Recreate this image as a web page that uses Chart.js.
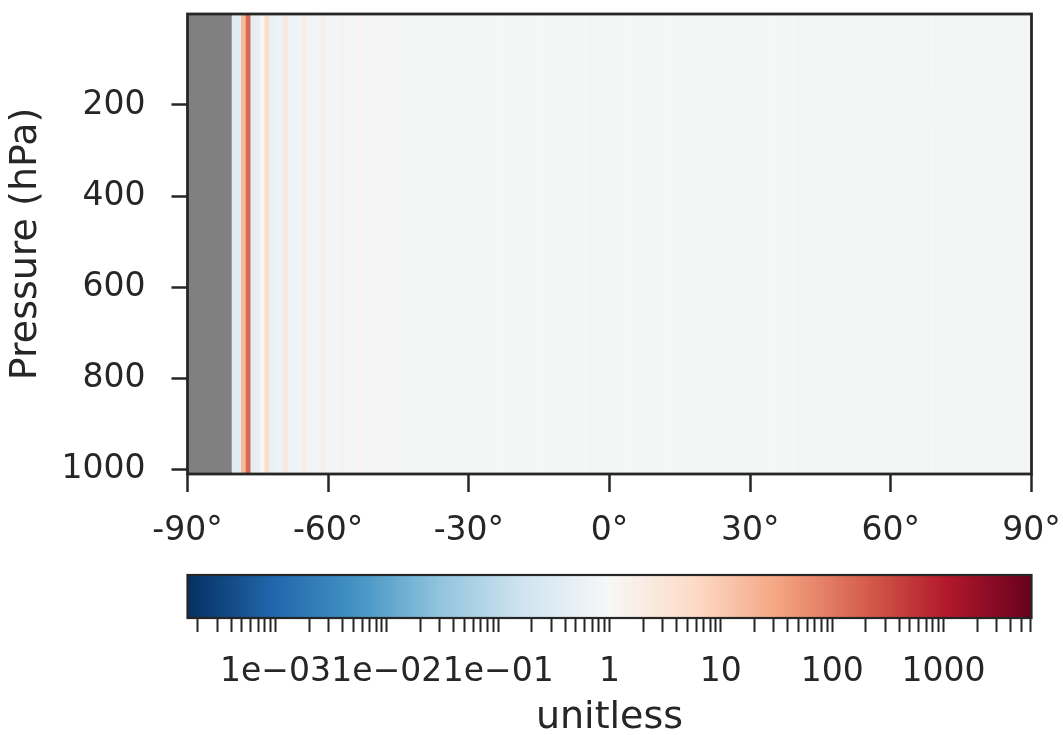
<!DOCTYPE html>
<html>
<head>
<meta charset="utf-8">
<script src="https://cdn.jsdelivr.net/npm/chart.js@4.4.1/dist/chart.umd.min.js"></script>
<style>
  html, body { margin: 0; padding: 0; background: #fff; }
  #wrap { position: relative; width: 1063px; height: 735px; overflow: hidden; }
  #heat { position: absolute; left: 0; top: 0; }
  #cbar { position: absolute; left: 0; top: 560px; }
</style>
</head>
<body>
<div id="wrap">
  <canvas id="heat" width="1063" height="560"></canvas>
  <canvas id="cbar" width="1063" height="175"></canvas>
</div>
<script>
// --- DATA ---
// latitude grid (1 degree cells, -90..90)
const latitudes = Array.from({ length: 181 }, (_, i) => i - 90);

// ratio per latitude column (null = no data, drawn grey)
const columnRatio = [
  null, null, null, null, null, null, null, null, null, null,      // -90..-81
  0.33, 0.36, 18, 150, 0.42, 0.45, 0.95, 5, 0.55, 0.58,          // -80..-71
  0.62, 2.6, 0.68, 0.7, 0.72, 1.8, 0.74, 0.76, 0.78, 1.5,         // -70..-61
  0.8, 0.8, 0.82, 1.35, 0.82, 0.84, 0.84, 1.2, 0.85, 0.85,        // -60..-51
  0.86, 1.1, 0.86, 0.87, 0.86, 1.05, 0.87, 0.88, 0.87, 0.9,       // -50..-41
  0.88, 0.87, 0.88, 0.9, 0.88, 0.87, 0.89, 0.88, 0.9, 0.88,       // -40..-31
  0.87, 0.88, 0.89, 0.88, 0.87, 0.88, 0.9, 0.89, 0.88, 0.87,      // -30..-21
  0.88, 0.89, 0.88, 0.87, 0.88, 0.89, 0.9, 0.88, 0.87, 0.88,      // -20..-11
  0.89, 0.88, 0.87, 0.88, 0.9, 0.89, 0.88, 0.87, 0.88, 0.89,      // -10..-1
  0.88, 0.87, 0.88, 0.89, 0.9, 0.88, 0.87, 0.88, 0.89, 0.88,      // 0..9
  0.87, 0.88, 0.9, 0.89, 0.88, 0.87, 0.88, 0.89, 0.88, 0.87,      // 10..19
  0.88, 0.89, 0.88, 0.9, 0.88, 0.87, 0.89, 0.88, 0.87, 0.88,      // 20..29
  0.89, 0.88, 0.87, 0.88, 0.89, 0.9, 0.88, 0.87, 0.88, 0.89,      // 30..39
  0.88, 0.87, 0.89, 0.88, 0.9, 0.88, 0.87, 0.88, 0.89, 0.88,      // 40..49
  0.87, 0.88, 0.89, 0.9, 0.88, 0.87, 0.88, 0.89, 0.88, 0.9,       // 50..59
  0.89, 0.88, 0.87, 0.88, 0.9, 0.89, 0.88, 0.87, 0.88, 0.89,      // 60..69
  0.88, 0.87, 0.88, 0.89, 0.9, 0.88, 0.87, 0.88, 0.89, 0.88,      // 70..79
  0.87, 0.88, 0.89, 0.88, 0.9, 0.88, 0.87, 0.88, 0.89, 0.88,      // 80..89
  0.9                                                              // 90
];

// faint positive patch near 200 hPa at high northern latitudes
const patchLatitudes = [59, 60, 61, 62, 63, 64, 65, 66, 67, 68, 69, 70, 71, 72, 73, 74, 75, 76, 77, 78, 79, 80, 81, 82, 83, 84, 85, 86, 87, 88, 89, 90];
const patchRatio = 1.2;
const patchPressure = [160, 250];

const columnPressure = [0.5, 1009];   // top / bottom of the data (hPa)

const latTicks = [-90, -60, -30, 0, 30, 60, 90];
const latTickLabels = ['-90°', '-60°', '-30°', '0°', '30°', '60°', '90°'];
const pressureTicks = [200, 400, 600, 800, 1000];

const cbLimits = [1 / 6170, 6170];
const cbMajor = [1e-3, 1e-2, 1e-1, 1, 10, 100, 1000];
const cbMajorLabels = ['1e\u221203', '1e\u221202', '1e\u221201', '1', '10', '100', '1000'];

// --- STYLE ---
const INK = '#262626';
const FONT = { family: 'DejaVu Sans', size: 33 };
const TITLE_FONT = { family: 'DejaVu Sans', size: 38 };
const RDBU_R = ['#053061', '#2166ac', '#4393c3', '#92c5de', '#d1e5f0', '#f7f7f7',
                '#fddbc7', '#f4a582', '#d6604d', '#b2182b', '#67001f'];

function hexToRgb(h) {
  return [parseInt(h.slice(1, 3), 16), parseInt(h.slice(3, 5), 16), parseInt(h.slice(5, 7), 16)];
}
function ratioColor(v) {
  if (v === null) return '#808080';
  const lo = Math.log10(cbLimits[0]), hi = Math.log10(cbLimits[1]);
  let t = (Math.log10(v) - lo) / (hi - lo);
  t = Math.min(1, Math.max(0, t)) * (RDBU_R.length - 1);
  const i = Math.min(RDBU_R.length - 2, Math.floor(t));
  const f = t - i;
  const a = hexToRgb(RDBU_R[i]), b = hexToRgb(RDBU_R[i + 1]);
  const c = a.map((x, k) => Math.round(x + (b[k] - x) * f));
  return `rgb(${c[0]},${c[1]},${c[2]})`;
}

// frame round the plot area (all four spines)
const framePlugin = {
  id: 'frame',
  afterDraw(chart, args, opts) {
    const { ctx, chartArea: a } = chart;
    ctx.save();
    ctx.strokeStyle = INK;
    ctx.lineWidth = opts.width || 2.5;
    ctx.strokeRect(a.left, a.top, a.right - a.left, a.bottom - a.top);
    ctx.restore();
  }
};

const tickGrid = (len, w) => ({
  display: true, drawOnChartArea: false, drawTicks: true,
  tickLength: len, tickWidth: w, tickColor: INK, offset: false
});

// keep the plot area where the layout padding puts it
function noPad(s) {
  s.paddingTop = 0; s.paddingBottom = 0; s.paddingLeft = 0; s.paddingRight = 0;
}

// --- HEATMAP ---
new Chart(document.getElementById('heat'), {
  type: 'bar',
  data: {
    datasets: [
      {
        data: latitudes.map(lat => ({ x: lat, y: columnPressure })),
        backgroundColor: columnRatio.map(ratioColor),
        grouped: false, barPercentage: 1, categoryPercentage: 1, borderWidth: 0
      },
      {
        data: patchLatitudes.map(lat => ({ x: lat, y: patchPressure })),
        backgroundColor: ratioColor(patchRatio),
        grouped: false, barPercentage: 1, categoryPercentage: 1, borderWidth: 0
      }
    ]
  },
  options: {
    responsive: false,
    animation: false,
    layout: { padding: { top: 14, right: 31.5, left: 0, bottom: 0 } },
    plugins: { legend: { display: false }, tooltip: { enabled: false }, frame: { width: 2.8 } },
    scales: {
      x: {
        type: 'linear', min: -90, max: 90, offset: false,
        afterBuildTicks: s => { s.ticks = latTicks.map(v => ({ value: v })); },
        afterFit: s => { s.height = 86; noPad(s); },
        ticks: {
          autoSkip: false, maxRotation: 0, color: INK, font: FONT, padding: 20,
          callback: v => latTickLabels[latTicks.indexOf(v)]
        },
        grid: tickGrid(18, 2.5),
        border: { display: false }
      },
      y: {
        type: 'linear', reverse: true, min: columnPressure[0], max: columnPressure[1],
        afterBuildTicks: s => { s.ticks = pressureTicks.map(v => ({ value: v })); },
        afterFit: s => { s.width = 187.5; noPad(s); },
        ticks: { autoSkip: false, color: INK, font: FONT, padding: 26, callback: v => String(v) },
        grid: tickGrid(16, 2.5),
        border: { display: false },
        title: { display: true, text: 'Pressure (hPa)', color: INK, font: TITLE_FONT, padding: { top: 3, bottom: 0 } }
      }
    }
  },
  plugins: [framePlugin]
});

// --- COLORBAR ---
const cbTicks = [];
for (let e = -4; e <= 3; e++) {
  for (let m = 1; m <= 9; m++) {
    const v = m * Math.pow(10, e);
    if (v >= cbLimits[0] && v <= cbLimits[1]) cbTicks.push(v);
  }
}

new Chart(document.getElementById('cbar'), {
  type: 'bar',
  data: {
    labels: ['ratio'],
    datasets: [{
      data: [cbLimits],
      barPercentage: 1, categoryPercentage: 1, borderWidth: 0,
      backgroundColor: (c) => {
        const a = c.chart.chartArea;
        if (!a) return RDBU_R[5];
        const g = c.chart.ctx.createLinearGradient(a.left, 0, a.right, 0);
        RDBU_R.forEach((col, i) => g.addColorStop(i / (RDBU_R.length - 1), col));
        return g;
      }
    }]
  },
  options: {
    indexAxis: 'y',
    responsive: false,
    animation: false,
    layout: { padding: { top: 15, right: 31.5, left: 187.5, bottom: 0 } },
    plugins: { legend: { display: false }, tooltip: { enabled: false }, frame: { width: 2.2 } },
    scales: {
      y: { display: false },
      x: {
        type: 'logarithmic', min: cbLimits[0], max: cbLimits[1],
        afterBuildTicks: s => { s.ticks = cbTicks.map(v => ({ value: v })); },
        afterFit: s => { s.height = 117; noPad(s); },
        ticks: {
          autoSkip: false, maxRotation: 0, color: INK, font: FONT, padding: 21,
          callback: v => {
            const k = cbMajor.findIndex(m => Math.abs(m - v) / m < 1e-6);
            return k >= 0 ? cbMajorLabels[k] : '';
          }
        },
        grid: tickGrid(14, 2),
        border: { display: false },
        title: { display: true, text: 'unitless', color: INK, font: TITLE_FONT, padding: { top: 0, bottom: -6 } }
      }
    }
  },
  plugins: [framePlugin]
});
</script>
</body>
</html>
